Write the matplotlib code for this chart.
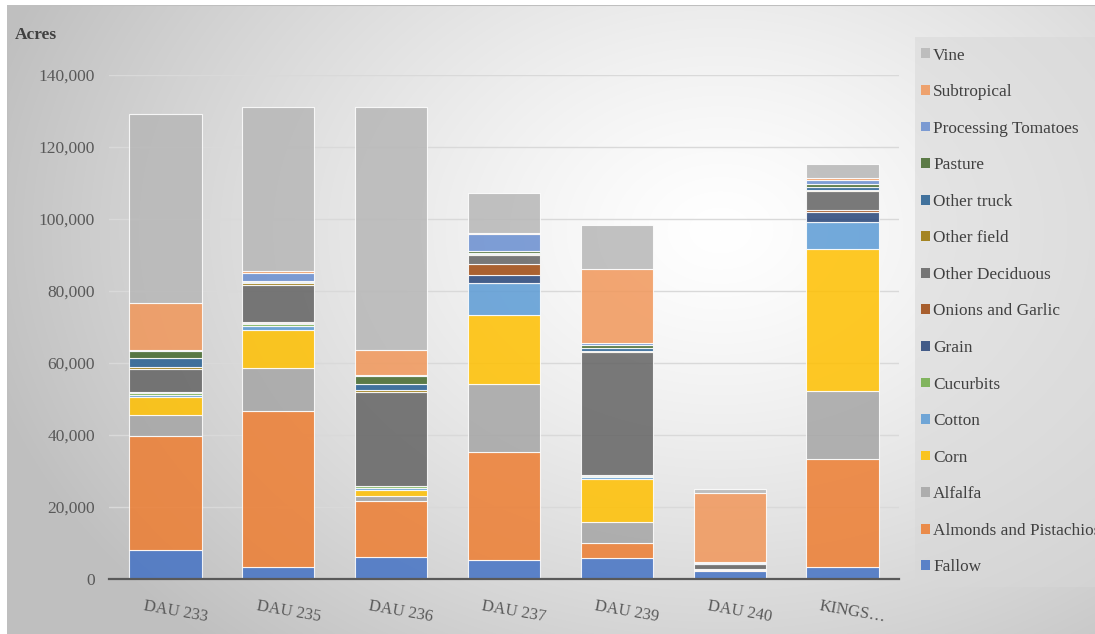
import numpy as np
import matplotlib
matplotlib.use("Agg")
import matplotlib.pyplot as plt
from matplotlib.patches import Patch, Rectangle
from matplotlib.transforms import ScaledTranslation

# ---- data (acres) ----
regions = ["DAU 233", "DAU 235", "DAU 236", "DAU 237", "DAU 239", "DAU 240", "KINGS…"]

fallow       = [8000, 3200, 6200, 5300, 5900, 2300, 3250]
almonds      = [31800, 43500, 15450, 30000, 4200, 300, 30000]
alfalfa      = [5700, 11900, 1500, 19000, 5800, 200, 19000]
corn         = [5100, 10700, 1700, 19000, 11800, 0, 39400]
cotton       = [500, 1100, 300, 8800, 700, 0, 7600]
cucurbits    = [600, 500, 600, 0, 300, 0, 0]
grain        = [200, 100, 0, 2400, 100, 0, 2800]
onions       = [100, 500, 0, 3100, 0, 0, 400]
other_decid  = [6300, 10200, 26250, 2300, 34200, 1300, 5400]
other_field  = [600, 500, 400, 400, 200, 200, 300]
other_truck  = [2400, 300, 1800, 200, 1000, 100, 800]
pasture      = [2000, 200, 2300, 600, 900, 100, 800]
proc_tomato  = [300, 2200, 200, 4700, 400, 100, 1200]
subtropical  = [13000, 600, 6900, 300, 20600, 19400, 500]
vine         = [52700, 45500, 67400, 11000, 12200, 900, 3800]

crop_names = ["Fallow", "Almonds and Pistachios", "Alfalfa", "Corn", "Cotton",
              "Cucurbits", "Grain", "Onions and Garlic", "Other Deciduous",
              "Other field", "Other truck", "Pasture", "Processing Tomatoes",
              "Subtropical", "Vine"]
crop_values = [fallow, almonds, alfalfa, corn, cotton, cucurbits, grain, onions,
               other_decid, other_field, other_truck, pasture, proc_tomato,
               subtropical, vine]
crop_colors = ["#4472C4", "#ED7D31", "#A5A5A5", "#FFC000", "#5B9BD5", "#70AD47",
               "#264478", "#9E480E", "#636363", "#997300", "#255E91", "#43682B",
               "#698ED0", "#F1975A", "#B7B7B7"]

W, H = 1095, 634
fig = plt.figure(figsize=(W / 100, H / 100), dpi=100)
fig.patch.set_facecolor("white")

# ---- radial gradient backdrop ----
bg = fig.add_axes([7 / W, 0, 1 - 7 / W, 1 - 5 / H], zorder=-10)
bg.set_axis_off()
gx, gy = np.meshgrid(np.arange(7, W), np.arange(5, H))
r = np.sqrt(((gx - 720) / 760.0) ** 2 + ((gy - 230) / 560.0) ** 2)
t = np.clip(r, 0, 1) ** 1.3
lo, hi = np.array([1.0, 1.0, 1.0]), np.array([0.75, 0.75, 0.75])
img = lo[None, None, :] * (1 - t[..., None]) + hi[None, None, :] * t[..., None]
bg.imshow(img, aspect="auto", extent=[0, 1, 0, 1], origin="upper")
bg.plot([0, 0], [0, 1], color="#BFBFBF", lw=1.5, transform=bg.transAxes)
bg.plot([0, 1], [1, 1], color="#BFBFBF", lw=1.5, transform=bg.transAxes)
bg.set_xlim(0, 1)
bg.set_ylim(0, 1)

# ---- main chart ----
ax = fig.add_axes([109 / W, (H - 579) / H, (899 - 109) / W, (579 - 75) / H])
ax.patch.set_alpha(0)

serif = "Liberation Serif"
tcol = "#595959"
x = np.arange(len(regions))
bottom = np.zeros(len(regions))
for name, vals, col in zip(crop_names, crop_values, crop_colors):
    v = np.array(vals, dtype=float)
    ax.bar(x, v, width=0.64, bottom=bottom, color=col, alpha=0.85,
           edgecolor=(1, 1, 1, 0.7), linewidth=0.8, label=name, zorder=3)
    bottom += v

ax.set_xlim(-0.5, len(regions) - 0.5)
ax.set_ylim(0, 140000)
ax.set_yticks(np.arange(0, 140001, 20000))
ax.set_yticklabels([f"{v:,}" for v in range(0, 140001, 20000)],
                   fontfamily=serif, fontsize=12.5, color=tcol)
ax.tick_params(axis="y", length=0, pad=10)
ax.tick_params(axis="x", length=0, pad=14)
ax.grid(axis="y", color="#D9D9D9", linewidth=1.0, zorder=0)
for s in ["top", "right", "left"]:
    ax.spines[s].set_visible(False)
ax.spines["bottom"].set_color("#595959")
ax.spines["bottom"].set_linewidth(1.6)
ax.spines["bottom"].set_zorder(4)

ax.set_xticks(x)
ax.set_xticklabels(regions, fontfamily=serif, fontsize=12, color=tcol,
                   rotation=-10, ha="center", va="top")
for lab in ax.get_xticklabels():
    lab.set_transform(lab.get_transform() + ScaledTranslation(0.1, 0, fig.dpi_scale_trans))

fig.text(15 / W, 1 - 35 / H, "Acres", fontfamily=serif, fontsize=12.5,
         fontweight="bold", color="#404040", ha="left", va="center")

# ---- legend panel and entries (reversed order, top = Vine) ----
fig.patches.append(Rectangle((915 / W, 1 - 587 / H), (W - 915) / W, 550 / H,
                             transform=fig.transFigure, facecolor="#D8D8D8",
                             alpha=0.55, edgecolor="none", zorder=1))
handles = [Patch(facecolor=c, alpha=0.85, edgecolor="none")
           for c in crop_colors][::-1]
leg = fig.legend(handles, crop_names[::-1], loc="upper left",
                 bbox_to_anchor=(921 / W, 1 - 47.5 / H), borderaxespad=0,
                 borderpad=0, prop={"family": serif, "size": 12.4},
                 labelcolor="#404040", handlelength=0.5, handleheight=0.5,
                 handletextpad=0.2, labelspacing=1.194, frameon=False)

fig.savefig("out.png", dpi=100)
